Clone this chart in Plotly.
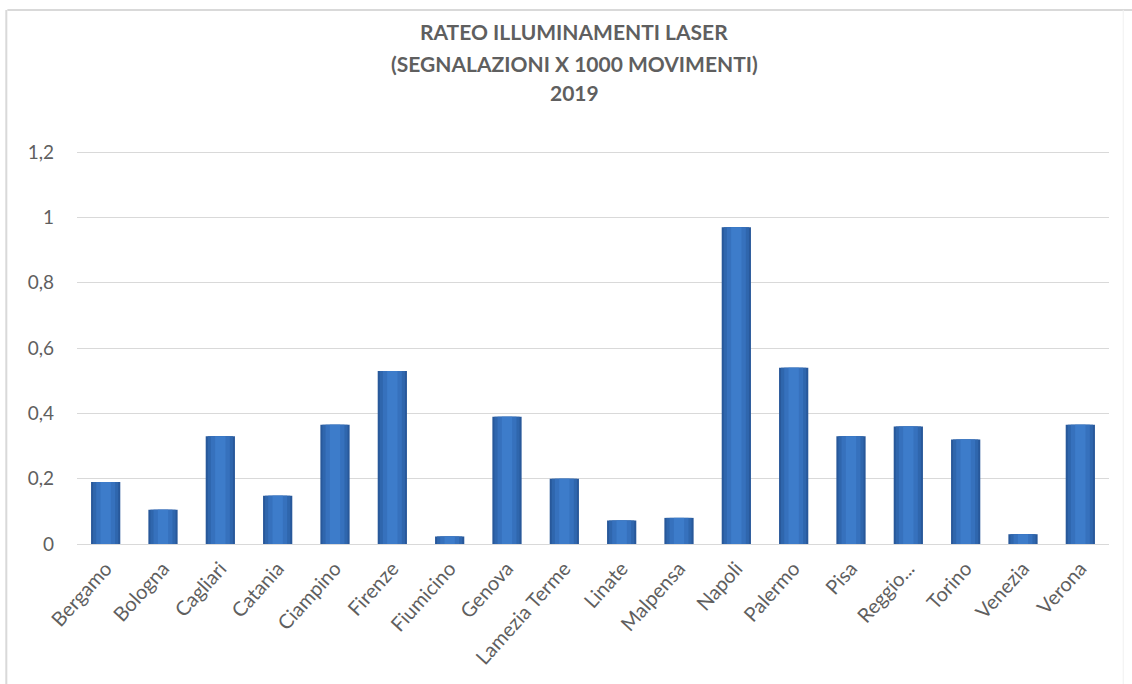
import plotly.graph_objects as go

# Airports and laser-illumination rate (reports per 1000 movements), 2019
airports = ["Bergamo", "Bologna", "Cagliari", "Catania", "Ciampino", "Firenze",
            "Fiumicino", "Genova", "Lamezia Terme", "Linate", "Malpensa", "Napoli",
            "Palermo", "Pisa", "Reggio...", "Torino", "Venezia", "Verona"]
rate = [0.19, 0.105, 0.33, 0.148, 0.365, 0.53,
        0.023, 0.39, 0.20, 0.072, 0.08, 0.97,
        0.54, 0.33, 0.36, 0.32, 0.03, 0.365]

y_ticks = [0, 0.2, 0.4, 0.6, 0.8, 1.0, 1.2]
title_lines = ["RATEO ILLUMINAMENTI LASER",
               "(SEGNALAZIONI X 1000 MOVIMENTI)",
               "2019"]

FONT = "Lato"
TEXT = "#5f5f5f"

fig = go.Figure()

# layered bars of decreasing width give a rounded, cylinder-like shading
layers = [(0.51, "#28589a"), (0.44, "#2f66ad"), (0.33, "#3671bd"), (0.18, "#3d7cca")]
for w, c in layers:
    fig.add_trace(go.Bar(x=airports, y=rate, width=w, marker=dict(color=c, line=dict(width=0)),
                         hoverinfo="x+y", showlegend=False))

fig.update_layout(
    barmode="overlay",
    width=1132, height=684,
    margin=dict(l=77, r=23, t=149, b=140),
    paper_bgcolor="white", plot_bgcolor="white",
    separators=",.",
    font=dict(family=FONT, color=TEXT, size=15),
    showlegend=False,
)

fig.update_xaxes(
    type="category", tickangle=-48, showgrid=False, showline=False, ticks="",
    tickfont=dict(family=FONT, size=20, color=TEXT), range=[-0.5, 17.5],
    ticklabelstandoff=8,
)
fig.update_yaxes(
    range=[0, 1.21], tickvals=y_ticks, showgrid=True, gridcolor="#d9d9d9", gridwidth=1,
    zeroline=True, zerolinecolor="#d9d9d9", zerolinewidth=1, showline=False, ticks="",
    tickfont=dict(family=FONT, size=19, color=TEXT), ticklabelstandoff=22,
)

# chart title, three centred lines
for txt, yp in zip(title_lines, [1.297, 1.216, 1.144]):
    fig.add_annotation(text=f"<b>{txt}</b>", x=0.4816, y=yp, xref="paper", yref="paper",
                       showarrow=False, xanchor="center", yanchor="middle",
                       font=dict(family=FONT, size=21, color=TEXT))

# light chart-area frame
fig.add_shape(type="line", xref="paper", yref="paper", x0=-0.0675, x1=1.03, y0=1.352, y1=1.352,
              line=dict(color="#d9d9d9", width=2))
fig.add_shape(type="line", xref="paper", yref="paper", x0=-0.0685, x1=-0.0685, y0=1.352, y1=-0.36,
              line=dict(color="#d9d9d9", width=2))
fig.add_shape(type="line", xref="paper", yref="paper", x0=1.0138, x1=1.0138, y0=1.352, y1=-0.36,
              line=dict(color="#f0f0f0", width=1))

fig.write_html("out.html")
